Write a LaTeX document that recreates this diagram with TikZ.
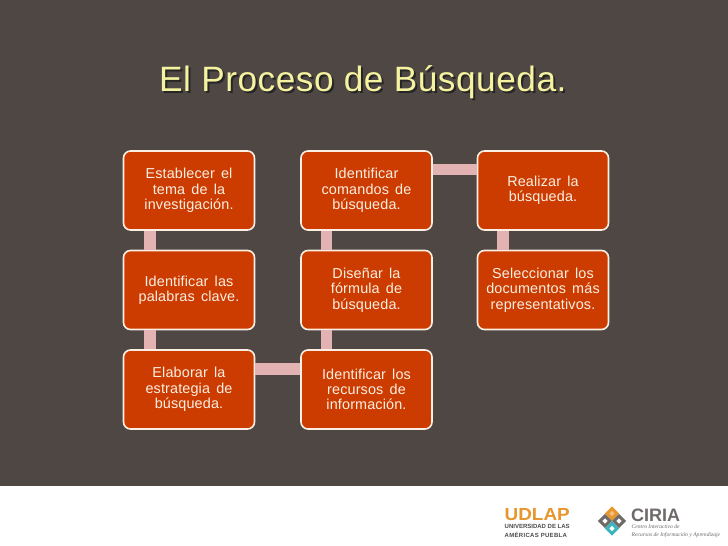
\documentclass[tikz,border=0pt]{standalone}
\usepackage{fontspec}
\setmainfont[LetterSpace=1,WordSpace=1.5]{Liberation Sans}
\newfontfamily\titlefont[LetterSpace=1.5]{Liberation Sans}
\newfontfamily\plainsans{Liberation Sans}
\newfontfamily\spacedsans[LetterSpace=5]{Liberation Sans}
\newfontfamily\widesans[FakeStretch=1.08]{Liberation Sans}
\newfontfamily\logoserif{Liberation Serif}
\definecolor{bgc}{HTML}{4F4744}
\definecolor{boxc}{HTML}{CC3C00}
\definecolor{edgec}{HTML}{FBEFE3}
\definecolor{linkc}{HTML}{E3B2B2}
\definecolor{titlec}{HTML}{F6F3A0}
\definecolor{udc}{HTML}{E8962E}
\definecolor{grayc}{HTML}{6E6A68}
\definecolor{tealc}{HTML}{3DB5BE}
\tikzset{
  stepbox/.style={draw=edgec,line width=1.6pt,fill=boxc,rounded corners=7pt,
    minimum width=131pt,minimum height=79pt,inner sep=0pt,text=edgec,align=center,
    font=\fontsize{14.4}{15.3}\selectfont,
    execute at begin node={\vspace*{2.4pt}}},
  link/.style={draw=linkc,line width=11.5pt},
  titletext/.style={font=\titlefont\fontsize{35.2}{40}\selectfont,inner sep=0pt,anchor=base west},
  logotext/.style={inner sep=0pt,anchor=base west},
  logodiamond/.style={rotate=45,minimum size=10pt,inner sep=0pt},
  logomark/.style={rotate=45,minimum size=3.6pt,inner sep=0pt,fill=white}
}
\begin{document}
\begin{tikzpicture}[x=1pt,y=-1pt]
\useasboundingbox (0,0) rectangle (728,546);
\fill[bgc] (0,0) rectangle (728,486);
\fill[white] (0,486) rectangle (728,546);
% title
\node[titletext,text=black!85] (titleshadow) at (161,93.5) {El Proceso de Búsqueda.};
\node[titletext,text=titlec] (title) at (159,91.5) {El Proceso de Búsqueda.};
% boxes
\node[stepbox] (a) at (189,190.5) {Establecer el\\tema de la\\investigación.};
\node[stepbox] (b) at (189,290) {Identificar las\\palabras clave.};
\node[stepbox] (c) at (189,389.5) {Elaborar la\\estrategia de\\búsqueda.};
\node[stepbox] (d) at (366.5,389.5) {Identificar los\\recursos de\\información.};
\node[stepbox] (e) at (366.5,290) {Diseñar la\\fórmula de\\búsqueda.};
\node[stepbox] (f) at (366.5,190.5) {Identificar\\comandos de\\búsqueda.};
\node[stepbox] (g) at (543,190.5) {Realizar la\\búsqueda.};
\node[stepbox] (h) at (543,290) {Seleccionar los\\documentos más\\representativos.};
% connectors
\draw[link] ([xshift=-39pt]a.south) -- ([xshift=-39pt]b.north);
\draw[link] ([xshift=-39pt]b.south) -- ([xshift=-39pt]c.north);
\draw[link] ([yshift=20.5pt]c.east) -- ([yshift=20.5pt]d.west);
\draw[link] ([xshift=-40pt]d.north) -- ([xshift=-40pt]e.south);
\draw[link] ([xshift=-40pt]e.north) -- ([xshift=-40pt]f.south);
\draw[link] ([yshift=21pt]f.east) -- ([yshift=21pt]g.west);
\draw[link] ([xshift=-40pt]g.south) -- ([xshift=-40pt]h.north);
% UDLAP logo
\node[logotext,text=udc,font=\widesans\bfseries\fontsize{17.5}{18}\selectfont] (udlap) at (504.5,520.5) {UDLAP};
\node[logotext,text=grayc!70!black,font=\plainsans\bfseries\fontsize{6}{7}\selectfont] (ud1) at (504.5,528.5) {UNIVERSIDAD DE LAS};
\node[logotext,text=grayc!70!black,font=\spacedsans\bfseries\fontsize{6}{7}\selectfont] (ud2) at (504.5,537) {AMÉRICAS PUEBLA};
% CIRIA logo
\node[logodiamond,fill=udc] (d1) at (612,513.5) {};
\node[logodiamond,fill=grayc] (d2) at (605,521) {};
\node[logodiamond,fill=grayc] (d3) at (619,521) {};
\node[logodiamond,fill=tealc] (d4) at (612,528.5) {};
\node[logomark,fill=udc!60!white] (m1) at (d1) {};
\node[logomark] (m2) at (d2) {};
\node[logomark] (m3) at (d3) {};
\node[logomark] (m4) at (d4) {};
\node[logotext,text=grayc,font=\plainsans\bfseries\fontsize{18}{18}\selectfont] (ciria) at (631,521) {CIRIA};
\node[logotext,text=grayc,font=\logoserif\itshape\fontsize{5.6}{7}\selectfont] (ci1) at (631.5,528) {Centro Interactivo de};
\node[logotext,text=grayc,font=\logoserif\itshape\fontsize{5.6}{7}\selectfont] (ci2) at (631.5,536) {Recursos de Información y Aprendizaje};
\end{tikzpicture}
\end{document}
